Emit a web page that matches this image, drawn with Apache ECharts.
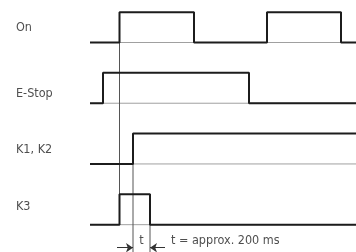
<!DOCTYPE html>
<html>
<head>
<meta charset="utf-8">
<script src="https://cdn.jsdelivr.net/npm/echarts@6/dist/echarts.min.js"></script>
<style>
  html, body { margin: 0; padding: 0; background: #fff; }
  #timing { width: 356px; height: 252px; }
</style>
</head>
<body>
<div id="timing"></div>
<script>
// signal names, one row each (row index = track)
const signalNames = ['On', 'E-Stop', 'K1, K2', 'K3']
// switching times of each signal, all start low
const onEdges = [29.5, 104, 177, 251]
const eStopEdges = [13, 159]
const k1k2Edges = [43]
const k3Edges = [29.5, 60]
const timeEnd = 266
// delay t between K1/K2 on and K3 off
const delayMarks = [43, 60]
const noteText = 't = approx. 200 ms'

const HIGH = 0.5 // pulse height in row units
const FONT = "'DejaVu Sans Condensed', 'Liberation Sans', sans-serif"
const FONT_SIZE = 12.5
const TEXT_COLOR = '#222'
const labelShift = [-0.24, -0.16, -0.24, -0.29] // label placement inside each row
const edgeLists = [onEdges, eStopEdges, k1k2Edges, k3Edges]

function stepData(edges, row) {
  let level = 0
  const pts = [[0, row]]
  edges.forEach(e => {
    pts.push([e, row - level * HIGH])
    level = 1 - level
    pts.push([e, row - level * HIGH])
  })
  pts.push([timeEnd, row - level * HIGH])
  return pts
}

const chart = echarts.init(document.getElementById('timing'))
const series = []

// thin base lines
signalNames.forEach((name, row) => {
  series.push({
    type: 'line', data: [[0, row], [timeEnd, row]], symbol: 'none', silent: true,
    lineStyle: { color: '#a0a0a0', width: 1 }
  })
})

// vertical guide lines
const bottom = 3.45
const guides = [
  [[onEdges[0], 0 - HIGH], [onEdges[0], 3]],
  [[delayMarks[0], 2 - HIGH], [delayMarks[0], bottom]],
  [[delayMarks[1], 3 - HIGH], [delayMarks[1], bottom]]
]
guides.forEach(g => {
  series.push({
    type: 'line', data: g, symbol: 'none', silent: true,
    lineStyle: { color: '#555', width: 1 }
  })
})

// signal traces
signalNames.forEach((name, row) => {
  series.push({
    type: 'line', name: name, data: stepData(edgeLists[row], row), symbol: 'none', silent: true,
    lineStyle: { color: '#1c1c1c', width: 2 }
  })
})

// labels on the left
series.push({
  type: 'scatter', symbolSize: 0, silent: true,
  data: signalNames.map((name, row) => ({ name: name, value: [-74, row + labelShift[row]] })),
  label: {
    show: true, position: 'right', distance: 0, formatter: p => p.name,
    color: TEXT_COLOR, fontSize: FONT_SIZE, fontFamily: FONT
  }
})

// delay arrows and note
const arrowY = 3.38
series.push({
  type: 'scatter', symbolSize: 0, silent: true,
  data: [
    { name: 't', value: [(delayMarks[0] + delayMarks[1]) / 2, 3.27], label: { position: 'inside' } },
    { name: noteText, value: [81, 3.27], label: { position: 'right', distance: 0 } }
  ],
  label: { show: true, formatter: p => p.name, color: TEXT_COLOR, fontSize: FONT_SIZE, fontFamily: FONT },
  markLine: {
    silent: true, symbol: ['none', 'arrow'], symbolSize: 7,
    label: { show: false },
    lineStyle: { color: '#333', width: 1, type: 'solid' },
    data: [
      [{ coord: [delayMarks[0] - 16, arrowY] }, { coord: [delayMarks[0], arrowY] }],
      [{ coord: [delayMarks[1] + 15, arrowY] }, { coord: [delayMarks[1], arrowY] }]
    ]
  }
})

chart.setOption({
  animation: false,
  grid: { left: 0, right: 0, top: 0, bottom: 0 },
  xAxis: { type: 'value', min: -90, max: timeEnd, show: false },
  yAxis: { type: 'value', min: -0.7, max: bottom, inverse: true, show: false },
  series: series
})
</script>
</body>
</html>
